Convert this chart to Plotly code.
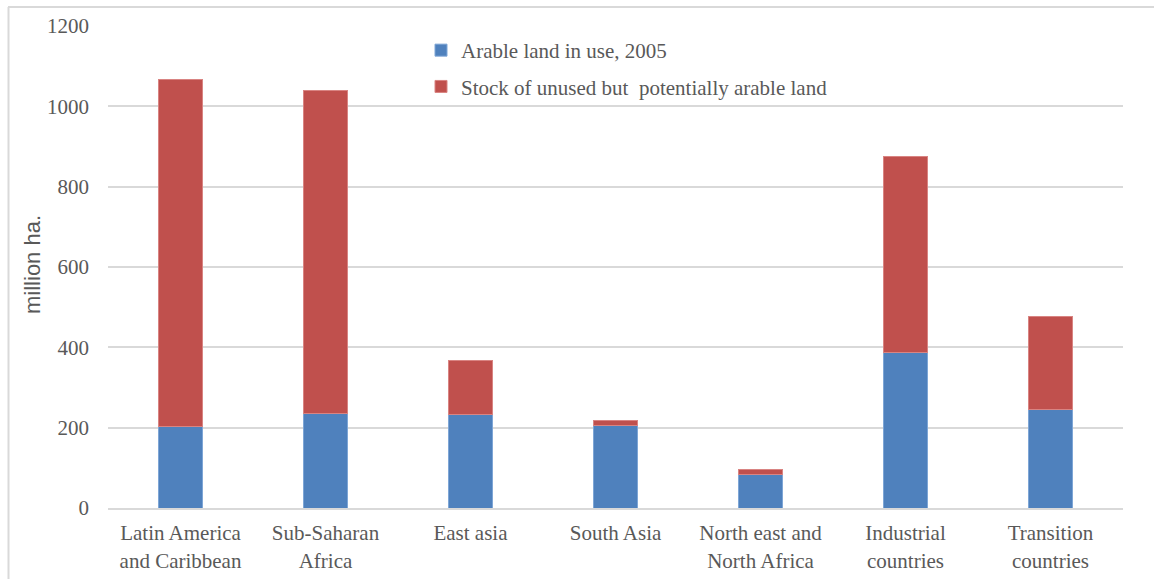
import plotly.graph_objects as go

regions = [
    "Latin America<br>and Caribbean",
    "Sub-Saharan<br>Africa",
    "East asia",
    "South Asia",
    "North east and<br>North Africa",
    "Industrial<br>countries",
    "Transition<br>countries",
]
in_use_2005 = [202, 235, 233, 205, 84, 388, 246]
unused_potential = [866, 805, 135, 12, 13, 487, 232]

W, H = 1154, 579
ml, mr, mt, mb = 108, 31, 26, 71
pw, ph = W - ml - mr, H - mt - mb

serif = '"Liberation Serif", "Times New Roman", Times, serif'
sans = '"Liberation Sans", Arial, sans-serif'
grey_text = "#595959"

fig = go.Figure()
fig.add_trace(go.Bar(
    x=regions, y=in_use_2005, name="Arable land in use, 2005",
    legendgroup="use",
    marker=dict(color="#4f81bd", line=dict(color="#7ea6d6", width=1)),
))
fig.add_trace(go.Bar(
    x=regions, y=unused_potential,
    name="Stock of unused but  potentially arable land",
    legendgroup="unused",
    marker=dict(color="#c0504d", line=dict(color="#d98482", width=1)),
))

# convert pixel positions into paper coordinates
def px_x(x):
    return (x - ml) / pw

def px_y(y):
    return (H - mb - y) / ph

# light frame along the top and left edges of the chart area
frame = dict(color="#d9d9d9", width=2)
fig.add_shape(type="line", xref="paper", yref="paper",
              x0=px_x(8), x1=px_x(W), y0=px_y(7), y1=px_y(7), line=frame)
fig.add_shape(type="line", xref="paper", yref="paper",
              x0=px_x(8.5), x1=px_x(8.5), y0=px_y(7), y1=px_y(H), line=frame)

# y axis title
fig.add_annotation(
    text="million ha.", textangle=-90, showarrow=False,
    xref="paper", yref="paper", x=px_x(32), y=px_y(265),
    xanchor="center", yanchor="middle",
    font=dict(family=sans, size=22, color=grey_text),
)

fig.update_layout(
    width=W, height=H,
    margin=dict(l=ml, r=mr, t=mt, b=mb, pad=0),
    barmode="stack",
    bargap=0.69,
    plot_bgcolor="white",
    paper_bgcolor="white",
    showlegend=True,
    legend=dict(
        traceorder="grouped",
        x=px_x(421), y=px_y(30), xanchor="left", yanchor="top",
        font=dict(family=serif, size=21, color=grey_text),
        bgcolor="rgba(0,0,0,0)",
        itemwidth=30,
        tracegroupgap=6,
    ),
    xaxis=dict(
        automargin=False,
        tickfont=dict(family=serif, size=21, color=grey_text),
        showgrid=False, showline=True, linecolor="#d9d9d9", linewidth=2,
        ticks="", ticklabelstandoff=5,
    ),
    yaxis=dict(
        automargin=False,
        range=[0, 1200], dtick=200,
        tickfont=dict(family=serif, size=21, color=grey_text),
        showgrid=True, gridcolor="#d9d9d9", gridwidth=2,
        zeroline=False, showline=False, ticks="",
        ticklabelstandoff=18,
    ),
)

fig.write_html("out.html")
